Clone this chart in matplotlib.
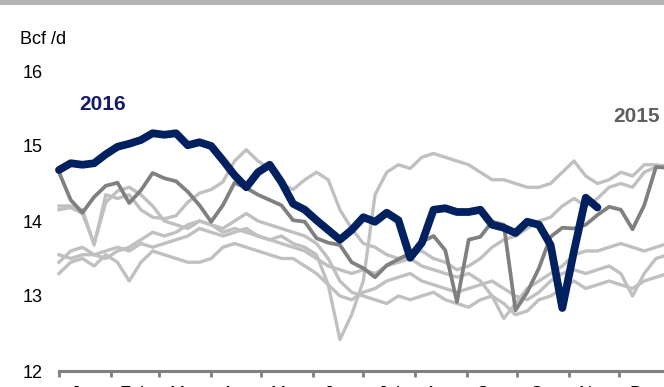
import numpy as np
import matplotlib
matplotlib.use("Agg")
import matplotlib.pyplot as plt
from matplotlib.patches import Rectangle

plt.rcParams['font.family'] = ['Liberation Sans', 'DejaVu Sans']

# Weekly observations, day-of-year (0 = 1 Jan)
week_days = np.arange(0, 365, 7)

# Daily supply averages, Bcf/d
y2016 = [14.68, 14.77, 14.75, 14.77, 14.89, 14.99, 15.03, 15.08, 15.17, 15.15,
         15.17, 15.01, 15.05, 15.00, 14.81, 14.61, 14.45, 14.65, 14.75, 14.52,
         14.23, 14.15, 14.01, 13.88, 13.75, 13.88, 14.05, 13.99, 14.11, 14.01,
         13.51, 13.71, 14.15, 14.17, 14.12, 14.12, 14.15, 13.95, 13.91, 13.84,
         13.99, 13.95, 13.68, 12.84, 13.60, 14.31, 14.18]

y2015 = [14.65, 14.28, 14.11, 14.32, 14.47, 14.51, 14.24, 14.41, 14.64, 14.57,
         14.53, 14.39, 14.21, 13.99, 14.21, 14.51, 14.44, 14.35, 14.28, 14.21,
         14.01, 13.99, 13.77, 13.71, 13.68, 13.45, 13.37, 13.25, 13.41, 13.49,
         13.57, 13.72, 13.80, 13.61, 12.92, 13.75, 13.79, 13.99, 13.95, 12.81,
         13.05, 13.37, 13.79, 13.91, 13.90, 13.95, 14.08, 14.19, 14.15, 13.89,
         14.21, 14.72, 14.71]

y2014 = [14.20, 14.20, 14.15, 13.68, 14.35, 14.30, 14.35, 14.15, 14.05, 14.03,
         14.07, 14.25, 14.37, 14.42, 14.52, 14.80, 14.95, 14.80, 14.70, 14.50,
         14.42, 14.55, 14.65, 14.55, 14.15, 13.90, 13.70, 13.65, 13.55, 13.50,
         13.55, 13.60, 13.50, 13.45, 13.35, 13.40, 13.50, 13.65, 13.75, 13.80,
         13.90, 14.00, 14.05, 14.20, 14.30, 14.20, 14.30, 14.45, 14.50, 14.45,
         14.65, 14.72, 14.75]

y2013 = [14.15, 14.18, 14.10, 13.70, 14.25, 14.40, 14.45, 14.35, 14.20, 14.00,
         13.95, 13.90, 14.00, 13.95, 13.85, 13.90, 13.85, 13.80, 13.75, 13.80,
         13.70, 13.65, 13.55, 13.15, 12.42, 12.75, 13.20, 14.35, 14.65, 14.75,
         14.70, 14.85, 14.90, 14.85, 14.80, 14.75, 14.65, 14.55, 14.55, 14.50,
         14.45, 14.45, 14.50, 14.65, 14.80, 14.60, 14.50, 14.55, 14.65, 14.60,
         14.75, 14.75, 14.72]

y2012 = [13.55, 13.50, 13.55, 13.55, 13.60, 13.65, 13.60, 13.70, 13.65, 13.70,
         13.75, 13.80, 13.90, 13.85, 13.80, 13.85, 13.90, 13.80, 13.75, 13.70,
         13.65, 13.60, 13.50, 13.40, 13.35, 13.30, 13.35, 13.30, 13.40, 13.45,
         13.50, 13.40, 13.35, 13.30, 13.25, 13.30, 13.20, 13.00, 12.70, 12.90,
         13.10, 13.20, 13.30, 13.40, 13.55, 13.60, 13.60, 13.65, 13.70, 13.65,
         13.60, 13.65, 13.70]

y2011 = [13.30, 13.45, 13.50, 13.40, 13.55, 13.45, 13.20, 13.45, 13.60, 13.55,
         13.50, 13.45, 13.45, 13.50, 13.65, 13.70, 13.65, 13.60, 13.55, 13.50,
         13.50, 13.40, 13.30, 13.15, 13.00, 12.95, 13.05, 13.10, 13.20, 13.25,
         13.30, 13.20, 13.15, 13.10, 13.05, 13.10, 13.15, 13.20, 13.10, 13.00,
         12.95, 13.05, 13.20, 13.30, 13.35, 13.30, 13.35, 13.40, 13.30, 13.00,
         13.30, 13.50, 13.55]

y2010 = [13.45, 13.60, 13.65, 13.55, 13.50, 13.60, 13.65, 13.75, 13.85, 13.80,
         13.85, 13.95, 14.00, 13.95, 13.90, 14.00, 14.10, 14.00, 13.95, 13.90,
         13.85, 13.80, 13.70, 13.50, 13.20, 13.05, 13.00, 12.95, 12.90, 13.00,
         12.95, 13.00, 13.05, 12.95, 12.90, 12.85, 12.95, 13.00, 12.90, 12.75,
         12.80, 12.95, 13.00, 13.10, 13.20, 13.10, 13.15, 13.20, 13.15, 13.10,
         13.20, 13.25, 13.30]

history = [y2010, y2011, y2012, y2013, y2014]

month_starts = [0, 31, 60, 91, 121, 152, 182, 213, 244, 274, 305, 335]
month_names = ['Jan', 'Feb', 'Mar', 'Apr', 'May', 'Jun',
               'Jul', 'Aug', 'Sep', 'Oct', 'Nov', 'Dec']
y_ticks = [12, 13, 14, 15, 16]

W, H = 664, 387
fig = plt.figure(figsize=(W / 100, H / 100), dpi=100)
fig.patches.append(Rectangle((0, 1 - 5 / H), 1, 5 / H, transform=fig.transFigure,
                             facecolor='#b3b3b3', edgecolor='none'))

ax = fig.add_axes([59 / W, 1 - 371 / H, 612 / W, 300 / H])
ax.set_xlim(0, 366)
ax.set_ylim(12, 16)

for series in history:
    ax.plot(week_days[:len(series)], series, color='#c0c0c0', lw=2.4,
            solid_joinstyle='round', clip_on=False)
ax.plot(week_days[:len(y2015)], y2015, color='#808080', lw=2.7,
        solid_joinstyle='round', clip_on=False)
ax.plot(week_days[:len(y2016)], y2016, color='#002060', lw=5.6,
        solid_joinstyle='round', solid_capstyle='round', clip_on=False)

for side in ('top', 'right', 'left'):
    ax.spines[side].set_visible(False)
ax.spines['bottom'].set_color('#808080')
ax.spines['bottom'].set_linewidth(2.2)

ax.set_xticks(month_starts)
ax.set_xticklabels([])
ax.tick_params(axis='x', which='major', direction='out', length=4,
               width=2, color='#808080')
mid_months = [(a + b) / 2 for a, b in zip(month_starts, month_starts[1:] + [366])]
ax.set_xticks(mid_months, minor=True)
ax.set_xticklabels(month_names, minor=True, fontsize=13)
ax.tick_params(axis='x', which='minor', length=0, pad=11)

ax.set_yticks(y_ticks)
ax.set_yticklabels([str(v) for v in y_ticks], fontsize=13)
ax.tick_params(axis='y', length=0, pad=11.5)

fig.text(20 / W, 1 - 39 / H, 'Bcf /d', fontsize=13, ha='left', va='center')
fig.text(79 / W, 1 - 104 / H, '2016', fontsize=15, fontweight='bold',
         color='#141a6b', ha='left', va='center')
fig.text(613 / W, 1 - 116 / H, '2015', fontsize=15, fontweight='bold',
         color='#5f5f5f', ha='left', va='center')

fig.savefig('out.png', dpi=100)
